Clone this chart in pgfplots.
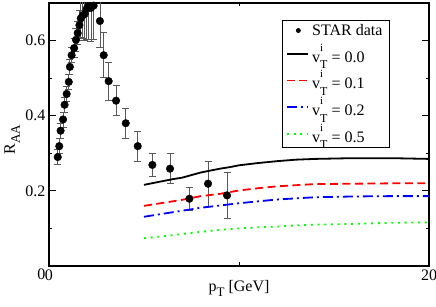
\documentclass[border=0pt]{standalone}
\usepackage{amsmath}
\usepackage{fontspec}
\setmainfont{Liberation Serif}
\usepackage{pgfplots}
\usepackage{pgfplotstable}
\pgfplotsset{compat=1.18}
\newcommand{\vit}{v\rlap{\raisebox{11pt}{\fontsize{11}{11}\selectfont i}}\raisebox{-6.5pt}{\fontsize{12}{12}\selectfont T}}

\pgfplotstableread{
x y e
0.46 0.290 0.02
0.54 0.319 0.02
0.61 0.360 0.02
0.74 0.390 0.02
0.82 0.429 0.02
0.93 0.458 0.02
1.04 0.490 0.02
1.10 0.530 0.02
1.19 0.561 0.02
1.32 0.580 0.025
1.42 0.602 0.03
1.51 0.620 0.03
1.60 0.641 0.04
1.67 0.659 0.05
1.77 0.667 0.06
1.88 0.671 0.07
1.98 0.684 0.08
2.07 0.692 0.09
2.21 0.687 0.09
2.35 0.693 0.09
2.68 0.652 0.07
2.88 0.561 0.06
3.14 0.492 0.05
3.53 0.440 0.04
4.04 0.380 0.04
4.67 0.319 0.04
5.44 0.269 0.03
6.37 0.259 0.04
7.39 0.179 0.03
8.37 0.219 0.06
9.37 0.188 0.061
}\stardata

\pgfplotstableread{
x y
5 0.216
5.5 0.221
6 0.226
6.5 0.231
7 0.235
7.5 0.242
8 0.249
8.5 0.254
9 0.259
9.5 0.263
10 0.268
11 0.274
12 0.279
13 0.283
14 0.285
15 0.286
16 0.287
17 0.287
18 0.287
19 0.286
20 0.285
}\vzero

\pgfplotstableread{
x y
5 0.160
6 0.168
7 0.176
7.5 0.181
8 0.186
9 0.192
10 0.201
11 0.207
12 0.212
13 0.215
14 0.218
16 0.219
18 0.220
20 0.220
}\vone

\pgfplotstableread{
x y
5 0.131
6 0.139
7 0.147
8 0.155
9 0.161
10 0.167
11 0.172
12 0.177
13 0.180
14 0.183
16 0.185
18 0.186
20 0.186
}\vtwo

\pgfplotstableread{
x y
5 0.074
6 0.079
7 0.085
8 0.091
9 0.096
10 0.100
11 0.103
12 0.105
13 0.108
14 0.110
16 0.112
18 0.115
20 0.116
}\vfive

\begin{document}
\begin{tikzpicture}
\begin{axis}[
  name=ax,
  scale only axis, width=380pt, height=263pt,
  xmin=0, xmax=20, ymin=0, ymax=0.7,
  xtick={0,20}, minor xtick={10},
  ytick={0.2,0.4,0.6}, minor ytick={0.1,0.3,0.5},
  extra y ticks={0},
  extra y tick style={yticklabel style={yshift=-8pt}, major tick length=0pt},
  yticklabel style={/pgf/number format/fixed, /pgf/number format/precision=1},
  tick align=inside, major tick length=7pt, minor tick length=3.5pt,
  axis line style={line width=1.2pt},
  every tick/.style={line width=0.8pt, black},
  /pgf/number format/assume math mode=true,
  tick label style={font=\fontsize{16}{19}\selectfont},
  label style={font=\fontsize{16}{19}\selectfont},
  xlabel={p\raisebox{-5pt}{\fontsize{13}{13}\selectfont T} [GeV]},
  ylabel={R\raisebox{-5pt}{\fontsize{13}{13}\selectfont AA}},
  xlabel style={at={(axis description cs:0.5,0)}, anchor=base, yshift=-26pt},
  ylabel style={at={(axis description cs:0,0.48)}, anchor=base, yshift=34pt},
  legend style={at={(rel axis cs:0.897,0.935)}, anchor=north east,
    draw=black, line width=0.8pt, font=\fontsize{16}{19}\selectfont,
    cells={anchor=west}, inner xsep=4pt, inner ysep=2pt, row sep=3.5pt,
    nodes={inner xsep=3pt, inner ysep=1.75pt}},
  legend image code/.code={\draw[mark repeat=2,mark phase=2,#1] plot coordinates {(0cm,0cm) (0.4cm,0cm) (0.75cm,0cm)};},
]
\addplot[only marks, mark=*, mark size=3.8pt, black,
  legend image post style={mark size=2pt},
  error bars/.cd, y dir=both, y explicit,
  error bar style={gray!70!black, line width=0.8pt},
  error mark options={gray!70!black, mark size=3.5pt, line width=0.8pt, rotate=90}]
  table[x=x, y=y, y error=e] {\stardata};
\addlegendentry{STAR data}
\addplot[black, line width=1.8pt, no marks] table[x=x,y=y] {\vzero};
\addlegendentry{\vit{} = 0.0}
\addplot[red, line width=1.8pt, no marks, dash pattern=on 8pt off 4.5pt] table[x=x,y=y] {\vone};
\addlegendentry{\vit{} = 0.1}
\addplot[blue, line width=1.8pt, no marks, dash pattern=on 10pt off 4pt on 2pt off 4pt] table[x=x,y=y] {\vtwo};
\addlegendentry{\vit{} = 0.2}
\addplot[green, line width=1.8pt, no marks, dash pattern=on 2pt off 4.7pt] table[x=x,y=y] {\vfive};
\addlegendentry{\vit{} = 0.5}
\end{axis}
\pgfresetboundingbox
\path ([xshift=-49pt,yshift=-41pt]ax.south west) rectangle ([xshift=7pt,yshift=3pt]ax.north east);
\end{tikzpicture}
\end{document}
